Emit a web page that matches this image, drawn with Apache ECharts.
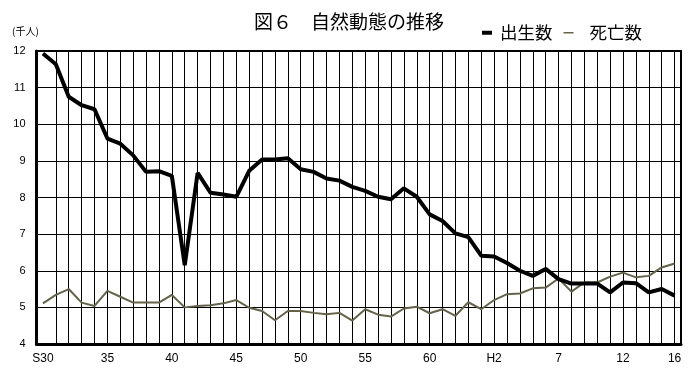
<!DOCTYPE html>
<html><head><meta charset="utf-8">
<script src="https://cdn.jsdelivr.net/npm/echarts@6/dist/echarts.min.js"></script>
<style>html,body{margin:0;padding:0;background:#fff}#c{width:697px;height:384px}</style>
</head><body><div id="c"></div>
<script>
const categories = ['S30','31','32','33','34','35','36','37','38','39',
  '40','41','42','43','44','45','46','47','48','49',
  '50','51','52','53','54','55','56','57','58','59',
  '60','61','62','63','H1','H2','3','4','5','6',
  '7','8','9','10','11','12','13','14','15','16'];
const births = [11.93,11.64,10.75,10.52,10.41,9.61,9.47,9.15,8.70,8.72,
  8.59,6.15,8.67,8.13,8.08,8.02,8.73,9.04,9.04,9.07,
  8.77,8.70,8.52,8.46,8.29,8.18,8.02,7.95,8.25,8.02,
  7.54,7.36,7.02,6.92,6.41,6.39,6.21,6.00,5.86,6.05,
  5.77,5.65,5.65,5.65,5.41,5.68,5.66,5.41,5.50,5.32];
const deaths = [5.11,5.34,5.50,5.13,5.04,5.45,5.29,5.13,5.13,5.13,
  5.34,5.00,5.04,5.06,5.11,5.20,4.99,4.90,4.65,4.90,
  4.90,4.85,4.81,4.85,4.64,4.95,4.80,4.75,4.97,5.02,
  4.84,4.95,4.77,5.14,4.95,5.20,5.36,5.38,5.52,5.54,
  5.79,5.43,5.68,5.68,5.84,5.95,5.82,5.86,6.09,6.20];
const shownLabels = [0,5,10,15,20,25,30,35,40,45,49];
const seriesNames = ['出生数','死亡数'];
const titleText = '図６　自然動態の推移';
const unitText = '(千人)';

const jp = '"Noto Sans CJK JP", sans-serif';
const num = '"Liberation Sans", Arial, sans-serif';
const deathColor = '#646249';

const chart = echarts.init(document.getElementById('c'), null, {renderer:'canvas'});
chart.setOption({
  animation: false,
  backgroundColor: '#fff',
  title: [
    {text: titleText, left: 254, top: 12, padding: 0,
     textStyle: {fontFamily: jp, fontSize: 19, fontWeight: 'normal', color: '#000'}},
    {text: unitText, left: 12, top: 26, padding: 0,
     textStyle: {fontFamily: jp, fontSize: 10, fontWeight: 'normal', color: '#000'}}
  ],
  legend: {
    left: 482, top: 24, padding: 0, itemWidth: 10, itemHeight: 4, itemGap: 11,
    textStyle: {fontFamily: jp, fontSize: 17.5, color: '#000', padding: [0,0,0,3]},
    data: [
      {name: seriesNames[0], icon: 'rect', itemStyle: {color: '#000'}},
      {name: seriesNames[1], icon: 'path://M0,0H10V1.5H0Z', itemStyle: {color: deathColor},
       textStyle: {padding: [0,0,0,11]}}
    ]
  },
  grid: {left: 36.5, right: 16, top: 51, bottom: 40, show: true,
         borderColor: '#000', borderWidth: 2, backgroundColor: 'transparent'},
  xAxis: {
    type: 'category', data: categories, boundaryGap: true,
    axisLine: {lineStyle: {color: '#000', width: 3}},
    axisTick: {show: false},
    axisLabel: {interval: (i) => shownLabels.indexOf(i) >= 0, margin: 9, color: '#000',
                fontSize: 12, fontFamily: num},
    splitLine: {show: true, alignWithLabel: true, interval: (i) => i > 0,
                lineStyle: {color: '#000', width: 1}}
  },
  yAxis: {
    type: 'value', min: 4, max: 12, interval: 1,
    axisLine: {show: true, lineStyle: {color: '#000', width: 3}},
    axisTick: {show: false},
    axisLabel: {margin: 11, color: '#000', fontSize: 11, fontFamily: num},
    splitLine: {show: true, lineStyle: {color: '#000', width: 1}}
  },
  series: [
    {name: seriesNames[0], type: 'line', data: births, symbol: 'none', z: 4,
     lineStyle: {color: '#000', width: 4}, itemStyle: {color: '#000'}},
    {name: seriesNames[1], type: 'line', data: deaths, symbol: 'none', z: 3,
     lineStyle: {color: deathColor, width: 2}, itemStyle: {color: deathColor}}
  ]
});
</script></body></html>
